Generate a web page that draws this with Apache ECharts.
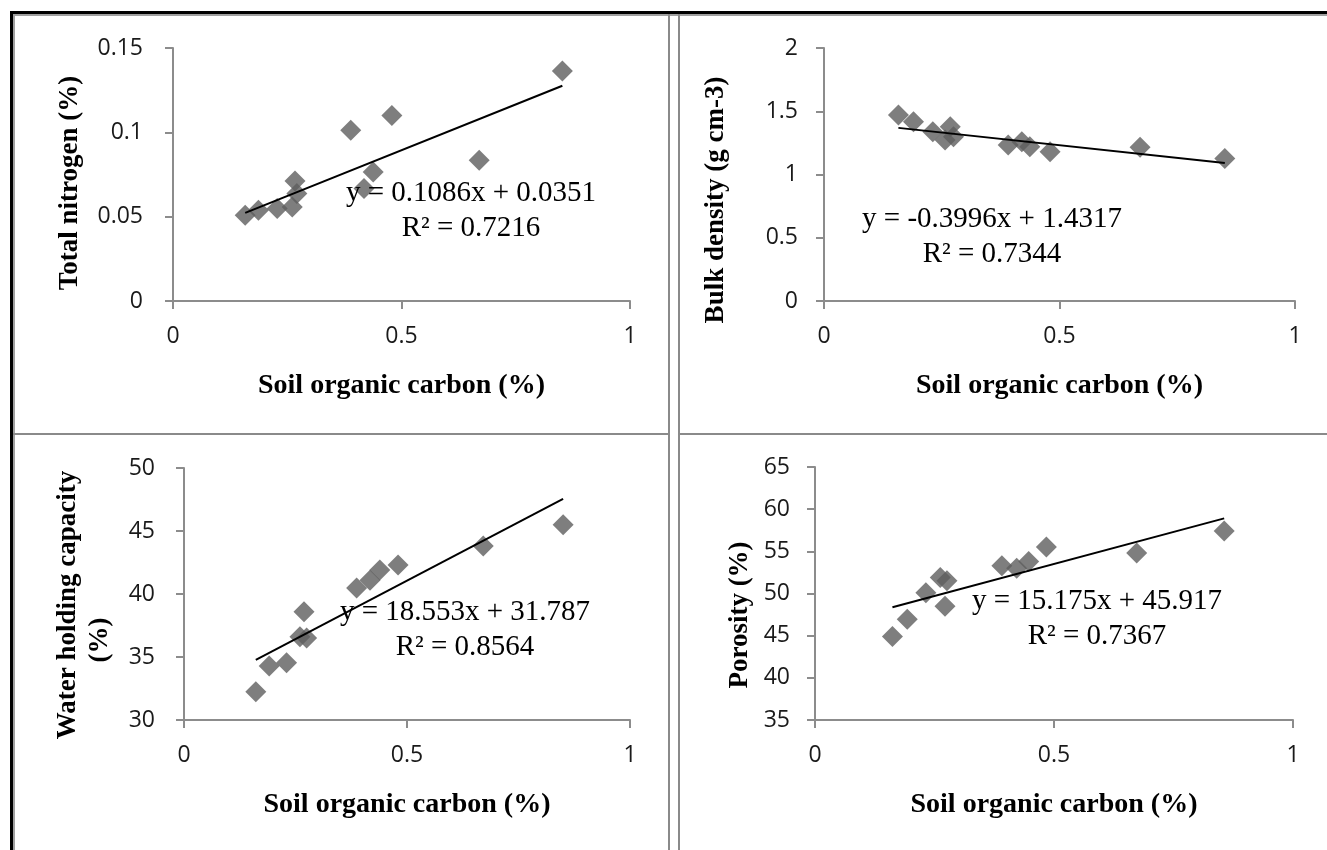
<!DOCTYPE html>
<html>
<head>
<meta charset="utf-8">
<style>html,body{margin:0;padding:0;background:#fff;}#c{width:1327px;height:850px;}</style>
<script src="https://cdn.jsdelivr.net/npm/echarts@6/dist/echarts.min.js"></script>
</head>
<body>
<div id="c"></div>
<script>
// Soil organic carbon (%) per panel
const socTN  = [0.158, 0.187, 0.228, 0.261, 0.271, 0.267, 0.389, 0.418, 0.438, 0.479, 0.670, 0.852];
const totalNitrogen = [0.0509, 0.0538, 0.0548, 0.0558, 0.0637, 0.0712, 0.1012, 0.0667, 0.0765, 0.1100, 0.0834, 0.1363];
const socBD  = [0.158, 0.190, 0.231, 0.268, 0.257, 0.275, 0.391, 0.420, 0.437, 0.480, 0.671, 0.851];
const bulkDensity = [1.470, 1.417, 1.338, 1.378, 1.272, 1.298, 1.233, 1.259, 1.219, 1.180, 1.215, 1.127];
const socWHC = [0.161, 0.191, 0.230, 0.269, 0.260, 0.275, 0.387, 0.417, 0.439, 0.480, 0.671, 0.850];
const waterHolding = [32.25, 34.29, 34.55, 38.6, 36.6, 36.5, 40.47, 41.1, 41.9, 42.3, 43.8, 45.5];
const socPor = [0.162, 0.193, 0.232, 0.262, 0.276, 0.272, 0.391, 0.422, 0.447, 0.484, 0.673, 0.856];
const porosity = [44.9, 46.96, 50.1, 51.9, 51.5, 48.5, 53.3, 53.0, 53.8, 55.5, 54.8, 57.4];
// Trend lines (slope, intercept) as printed
const trendTN  = [0.1086, 0.0351];
const trendBD  = [-0.3996, 1.4317];
const trendWHC = [18.553, 31.787];
const trendPor = [15.175, 45.917];
const eqTexts = [
  ['y = 0.1086x + 0.0351', 'R² = 0.7216'],
  ['y = -0.3996x + 1.4317', 'R² = 0.7344'],
  ['y = 18.553x + 31.787', 'R² = 0.8564'],
  ['y = 15.175x + 45.917', 'R² = 0.7367']
];
const yTitles = ['Total nitrogen (%)', 'Bulk density (g cm-3)', 'Water holding capacity', 'Porosity (%)'];
const xTitle = 'Soil organic carbon (%)';
const yAxesCfg = [
  {min: 0, max: 0.15, interval: 0.05},
  {min: 0, max: 2, interval: 0.5},
  {min: 30, max: 50, interval: 5},
  {min: 35, max: 65, interval: 5}
];

const grids = [
  {left: 173, top: 48, width: 457, height: 253},
  {left: 824, top: 48, width: 471, height: 253},
  {left: 184, top: 468, width: 446, height: 252},
  {left: 815, top: 467, width: 478, height: 253}
];
const yLabelMargin = [30, 26, 29, 25];

const axisLineStyle = {color: '#8c8c8c', width: 2};
const tickFont = {fontFamily: 'Open Sans', fontSize: 23, color: '#1a1a1a'};
const titleFont = {fontFamily: 'Liberation Serif', fontWeight: 'bold', fontSize: 28, color: '#000'};

function trend(p, xs) {
  const x0 = Math.min(...xs), x1 = Math.max(...xs);
  return [[x0, p[0]*x0 + p[1]], [x1, p[0]*x1 + p[1]]];
}

const xs = [socTN, socBD, socWHC, socPor];
const ys = [totalNitrogen, bulkDensity, waterHolding, porosity];
const trends = [trendTN, trendBD, trendWHC, trendPor];

const xAxis = grids.map((g, i) => ({
  type: 'value', gridIndex: i, min: 0, max: 1, interval: 0.5,
  axisLine: {show: true, lineStyle: axisLineStyle},
  axisTick: {show: true, length: 8, lineStyle: axisLineStyle},
  splitLine: {show: false},
  axisLabel: Object.assign({margin: 24, formatter: v => String(v)}, tickFont),
  name: xTitle, nameLocation: 'middle', nameGap: 71,
  nameTextStyle: titleFont
}));
const yAxis = grids.map((g, i) => Object.assign({
  type: 'value', gridIndex: i,
  axisLine: {show: true, lineStyle: axisLineStyle},
  axisTick: {show: true, length: 8, lineStyle: axisLineStyle},
  splitLine: {show: false},
  axisLabel: Object.assign({margin: yLabelMargin[i], formatter: v => String(+v.toFixed(2))}, tickFont)
}, yAxesCfg[i]));

const series = [];
for (let i = 0; i < 4; i++) {
  series.push({
    type: 'line', xAxisIndex: i, yAxisIndex: i, data: trend(trends[i], xs[i]),
    symbol: 'none', lineStyle: {color: '#000', width: 2}, z: 3, silent: true
  });
  series.push({
    type: 'scatter', xAxisIndex: i, yAxisIndex: i,
    data: xs[i].map((x, k) => [x, ys[i][k]]),
    symbol: 'diamond', symbolSize: 21, itemStyle: {color: '#5e5e5e'}, z: 2
  });
}

const eqPos = [[471, 193, 228], [992, 219, 254], [465, 612, 647], [1097, 601, 636]];
const graphic = [];
// frame
graphic.push({type: 'rect', shape: {x: 10, y: 11, width: 1320, height: 3}, style: {fill: '#000'}});
graphic.push({type: 'rect', shape: {x: 10, y: 11, width: 3, height: 840}, style: {fill: '#000'}});
graphic.push({type: 'rect', shape: {x: 13, y: 14, width: 1314, height: 2}, style: {fill: '#a0a0a0'}});
graphic.push({type: 'rect', shape: {x: 13, y: 14, width: 2, height: 836}, style: {fill: '#a0a0a0'}});
graphic.push({type: 'rect', shape: {x: 13, y: 433, width: 656, height: 2}, style: {fill: '#8a8a8a'}});
graphic.push({type: 'rect', shape: {x: 680, y: 433, width: 647, height: 2}, style: {fill: '#8a8a8a'}});
graphic.push({type: 'rect', shape: {x: 668, y: 14, width: 2, height: 836}, style: {fill: '#8a8a8a'}});
graphic.push({type: 'rect', shape: {x: 678, y: 14, width: 2, height: 836}, style: {fill: '#8a8a8a'}});
// equations
eqPos.forEach((p, i) => {
  graphic.push({type: 'text', x: p[0], y: p[1], z: 10, style: {text: eqTexts[i][0], fontFamily: 'Liberation Serif', fontSize: 29, fill: '#000', textAlign: 'center', textVerticalAlign: 'middle'}});
  graphic.push({type: 'text', x: p[0], y: p[2], z: 10, style: {text: eqTexts[i][1], fontFamily: 'Liberation Serif', fontSize: 29, fill: '#000', textAlign: 'center', textVerticalAlign: 'middle'}});
});
// y titles
const yTitlePos = [[70, 183], [716, 200], [68, 605], [740, 615]];
yTitlePos.forEach((p, i) => {
  graphic.push({type: 'text', x: p[0], y: p[1], rotation: Math.PI / 2, style: {text: yTitles[i], fill: '#000', textAlign: 'center', textVerticalAlign: 'middle', fontFamily: 'Liberation Serif', fontWeight: 'bold', fontSize: 27}});
});
graphic.push({type: 'text', x: 100, y: 640, rotation: Math.PI / 2, style: {text: '(%)', fill: '#000', textAlign: 'center', textVerticalAlign: 'middle', fontFamily: 'Liberation Serif', fontWeight: 'bold', fontSize: 27}});

const chart = echarts.init(document.getElementById('c'));
chart.setOption({
  animation: false,
  backgroundColor: '#fff',
  grid: grids,
  xAxis: xAxis,
  yAxis: yAxis,
  series: series,
  graphic: graphic
});
</script>
</body>
</html>
